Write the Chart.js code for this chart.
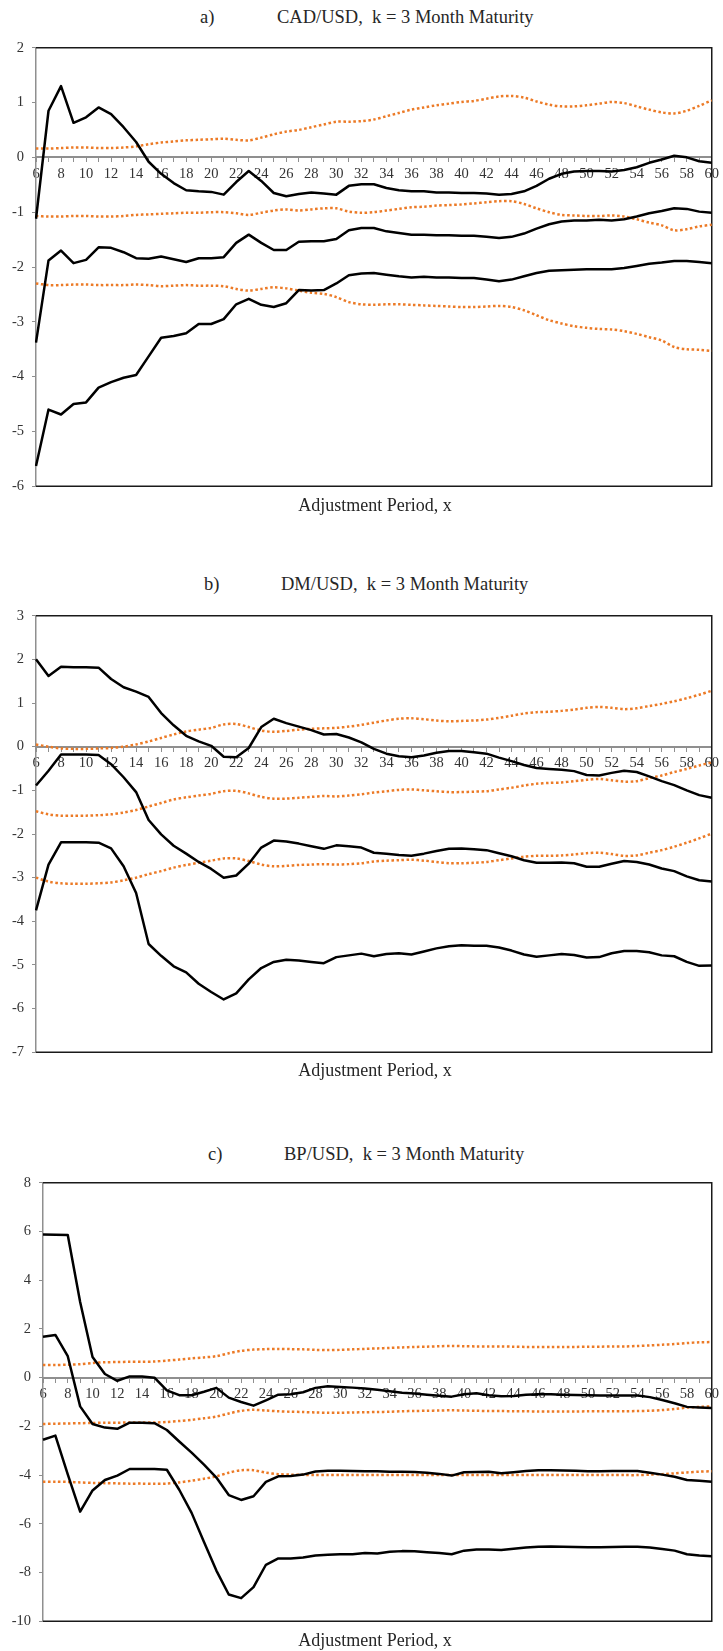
<!DOCTYPE html>
<html>
<head>
<meta charset="utf-8">
<script src="https://cdn.jsdelivr.net/npm/chart.js@4.4.1/dist/chart.umd.min.js"></script>
<style>
  html, body { margin: 0; padding: 0; background: #fff; }
  body { width: 723px; height: 1651px; position: relative; overflow: hidden; font-family: "Liberation Serif", "Times New Roman", serif; color: #262626; }
  .txt { position: absolute; white-space: pre; line-height: 1; }
  .ttl { font-size: 18.5px; }
  .xl { font-size: 18px; text-align: center; width: 400px; }
  .box { position: absolute; left: 0; width: 723px; }
</style>
</head>
<body>
<div class="txt ttl" style="left:200px; top:8px;">a)</div>
<div class="txt ttl" style="left:277px; top:8px;">CAD/USD,  k = 3 Month Maturity</div>
<div class="box" id="boxA" style="top:31px; height:472px;"><canvas id="cA" width="723" height="472"></canvas></div>
<div class="txt xl" style="left:175px; top:496px;">Adjustment Period, x</div>

<div class="txt ttl" style="left:204px; top:575px;">b)</div>
<div class="txt ttl" style="left:281px; top:575px;">DM/USD,  k = 3 Month Maturity</div>
<div class="box" id="boxB" style="top:599px; height:470px;"><canvas id="cB" width="723" height="470"></canvas></div>
<div class="txt xl" style="left:175px; top:1061px;">Adjustment Period, x</div>

<div class="txt ttl" style="left:208px; top:1145px;">c)</div>
<div class="txt ttl" style="left:284px; top:1145px;">BP/USD,  k = 3 Month Maturity</div>
<div class="box" id="boxC" style="top:1166px; height:472px;"><canvas id="cC" width="723" height="472"></canvas></div>
<div class="txt xl" style="left:175px; top:1631px;">Adjustment Period, x</div>

<script>
// Categories: adjustment period x
const periods = [6,7,8,9,10,11,12,13,14,15,16,17,18,19,20,21,22,23,24,25,26,27,28,29,30,31,32,33,34,35,36,37,38,39,40,41,42,43,44,45,46,47,48,49,50,51,52,53,54,55,56,57,58,59,60];

// Panel a) CAD/USD
const cadSolid1 = [-1.12,0.85,1.3,0.63,0.73,0.91,0.79,0.55,0.28,-0.08,-0.3,-0.47,-0.6,-0.62,-0.63,-0.68,-0.45,-0.25,-0.43,-0.65,-0.71,-0.67,-0.64,-0.66,-0.68,-0.52,-0.49,-0.49,-0.56,-0.6,-0.62,-0.62,-0.64,-0.64,-0.65,-0.65,-0.66,-0.68,-0.67,-0.62,-0.52,-0.39,-0.3,-0.26,-0.25,-0.25,-0.26,-0.23,-0.18,-0.1,-0.04,0.03,0.0,-0.07,-0.1];
const cadSolid2 = [-3.38,-1.88,-1.7,-1.93,-1.87,-1.64,-1.65,-1.73,-1.84,-1.85,-1.81,-1.86,-1.91,-1.84,-1.84,-1.82,-1.56,-1.41,-1.56,-1.69,-1.69,-1.54,-1.53,-1.53,-1.49,-1.33,-1.29,-1.29,-1.35,-1.38,-1.41,-1.41,-1.42,-1.42,-1.43,-1.43,-1.45,-1.47,-1.45,-1.39,-1.3,-1.22,-1.17,-1.15,-1.15,-1.14,-1.15,-1.13,-1.08,-1.02,-0.98,-0.93,-0.94,-0.99,-1.01];
const cadSolid3 = [-5.63,-4.6,-4.69,-4.5,-4.47,-4.2,-4.1,-4.02,-3.97,-3.63,-3.29,-3.26,-3.21,-3.04,-3.04,-2.95,-2.68,-2.58,-2.69,-2.73,-2.66,-2.42,-2.43,-2.42,-2.3,-2.15,-2.12,-2.11,-2.14,-2.17,-2.19,-2.18,-2.19,-2.19,-2.2,-2.2,-2.23,-2.26,-2.23,-2.17,-2.11,-2.07,-2.06,-2.05,-2.04,-2.04,-2.04,-2.02,-1.98,-1.94,-1.92,-1.89,-1.89,-1.91,-1.93];
const cadDot1 = [0.16,0.16,0.17,0.18,0.18,0.17,0.17,0.18,0.2,0.24,0.27,0.29,0.31,0.32,0.33,0.34,0.32,0.31,0.36,0.42,0.47,0.5,0.55,0.6,0.65,0.65,0.66,0.69,0.75,0.81,0.87,0.91,0.95,0.98,1.01,1.03,1.07,1.11,1.12,1.09,1.02,0.96,0.93,0.93,0.95,0.98,1.01,0.99,0.93,0.87,0.82,0.8,0.85,0.94,1.04];
const cadDot2 = [-1.07,-1.08,-1.08,-1.07,-1.07,-1.08,-1.08,-1.07,-1.05,-1.04,-1.03,-1.02,-1.01,-1.01,-1.0,-1.0,-1.02,-1.05,-1.01,-0.97,-0.95,-0.97,-0.95,-0.93,-0.93,-0.99,-1.01,-1.0,-0.97,-0.94,-0.91,-0.9,-0.88,-0.87,-0.86,-0.84,-0.82,-0.8,-0.8,-0.85,-0.93,-1.0,-1.05,-1.06,-1.07,-1.07,-1.06,-1.08,-1.13,-1.19,-1.24,-1.33,-1.31,-1.26,-1.23];
const cadDot3 = [-2.3,-2.33,-2.33,-2.32,-2.32,-2.33,-2.33,-2.33,-2.32,-2.33,-2.35,-2.34,-2.33,-2.34,-2.34,-2.35,-2.4,-2.43,-2.4,-2.37,-2.39,-2.43,-2.47,-2.49,-2.55,-2.64,-2.68,-2.69,-2.68,-2.68,-2.69,-2.7,-2.71,-2.72,-2.73,-2.73,-2.72,-2.71,-2.73,-2.79,-2.88,-2.97,-3.03,-3.08,-3.11,-3.13,-3.14,-3.17,-3.22,-3.28,-3.34,-3.46,-3.5,-3.51,-3.53];

// Panel b) DM/USD
const dmSolid1 = [2.0,1.62,1.83,1.82,1.82,1.81,1.55,1.36,1.26,1.14,0.77,0.49,0.25,0.12,0.02,-0.23,-0.24,-0.03,0.45,0.64,0.54,0.46,0.38,0.28,0.29,0.21,0.1,-0.05,-0.16,-0.22,-0.24,-0.2,-0.14,-0.1,-0.1,-0.13,-0.16,-0.25,-0.33,-0.42,-0.49,-0.51,-0.53,-0.56,-0.65,-0.66,-0.6,-0.55,-0.58,-0.68,-0.79,-0.88,-1.0,-1.11,-1.17];
const dmSolid2 = [-0.89,-0.55,-0.18,-0.18,-0.18,-0.19,-0.4,-0.7,-1.04,-1.68,-2.01,-2.27,-2.45,-2.64,-2.8,-3.0,-2.95,-2.68,-2.31,-2.15,-2.17,-2.22,-2.28,-2.34,-2.26,-2.28,-2.31,-2.43,-2.45,-2.48,-2.5,-2.45,-2.39,-2.34,-2.33,-2.35,-2.37,-2.44,-2.51,-2.6,-2.66,-2.66,-2.65,-2.67,-2.75,-2.75,-2.68,-2.62,-2.64,-2.7,-2.79,-2.85,-2.97,-3.06,-3.09];
const dmSolid3 = [-3.75,-2.7,-2.19,-2.19,-2.19,-2.2,-2.33,-2.74,-3.35,-4.52,-4.79,-5.03,-5.17,-5.43,-5.62,-5.79,-5.65,-5.33,-5.07,-4.93,-4.88,-4.9,-4.93,-4.96,-4.82,-4.78,-4.74,-4.8,-4.75,-4.73,-4.76,-4.69,-4.62,-4.57,-4.55,-4.56,-4.56,-4.6,-4.67,-4.76,-4.81,-4.78,-4.75,-4.77,-4.83,-4.82,-4.73,-4.68,-4.68,-4.71,-4.78,-4.8,-4.93,-5.02,-5.01];
const dmDot1 = [0.05,0.0,-0.04,-0.05,-0.05,-0.04,-0.03,0.0,0.05,0.12,0.2,0.28,0.35,0.39,0.43,0.51,0.52,0.45,0.37,0.34,0.36,0.39,0.41,0.42,0.43,0.46,0.5,0.55,0.6,0.64,0.65,0.63,0.6,0.58,0.59,0.6,0.62,0.66,0.71,0.76,0.79,0.8,0.82,0.85,0.89,0.91,0.89,0.86,0.88,0.93,0.98,1.04,1.11,1.19,1.28];
const dmDot2 = [-1.48,-1.55,-1.58,-1.58,-1.58,-1.57,-1.55,-1.51,-1.45,-1.37,-1.29,-1.21,-1.16,-1.12,-1.08,-1.02,-1.01,-1.07,-1.15,-1.19,-1.19,-1.17,-1.15,-1.13,-1.14,-1.12,-1.09,-1.05,-1.02,-0.99,-0.98,-1.0,-1.02,-1.04,-1.04,-1.03,-1.02,-0.98,-0.94,-0.89,-0.85,-0.83,-0.82,-0.79,-0.76,-0.74,-0.77,-0.8,-0.79,-0.72,-0.66,-0.58,-0.51,-0.43,-0.36];
const dmDot3 = [-3.0,-3.09,-3.13,-3.14,-3.14,-3.13,-3.11,-3.06,-3.0,-2.92,-2.85,-2.77,-2.71,-2.66,-2.61,-2.56,-2.56,-2.62,-2.7,-2.74,-2.73,-2.71,-2.7,-2.69,-2.7,-2.69,-2.67,-2.63,-2.61,-2.6,-2.59,-2.61,-2.64,-2.67,-2.67,-2.66,-2.64,-2.6,-2.56,-2.52,-2.5,-2.5,-2.49,-2.47,-2.44,-2.43,-2.46,-2.5,-2.49,-2.43,-2.37,-2.29,-2.2,-2.1,-1.99];

// Panel c) BP/USD
const bpSolid1 = [5.87,5.86,5.85,3.1,0.85,0.15,-0.13,0.05,0.05,0.0,-0.52,-0.72,-0.72,-0.58,-0.42,-0.82,-1.0,-1.15,-0.93,-0.7,-0.68,-0.6,-0.42,-0.35,-0.38,-0.41,-0.45,-0.5,-0.56,-0.62,-0.65,-0.7,-0.74,-0.78,-0.68,-0.64,-0.72,-0.76,-0.75,-0.7,-0.68,-0.68,-0.7,-0.71,-0.72,-0.73,-0.73,-0.73,-0.73,-0.8,-0.92,-1.05,-1.2,-1.23,-1.25];
const bpSolid2 = [1.68,1.75,0.88,-1.18,-1.9,-2.05,-2.1,-1.85,-1.85,-1.87,-2.15,-2.62,-3.08,-3.57,-4.1,-4.82,-5.02,-4.87,-4.28,-4.05,-4.04,-3.98,-3.85,-3.82,-3.82,-3.83,-3.84,-3.84,-3.86,-3.86,-3.87,-3.9,-3.95,-4.02,-3.88,-3.87,-3.86,-3.92,-3.88,-3.83,-3.8,-3.8,-3.81,-3.82,-3.84,-3.84,-3.83,-3.83,-3.83,-3.9,-3.98,-4.07,-4.2,-4.23,-4.27];
const bpSolid3 = [-2.55,-2.38,-3.97,-5.5,-4.63,-4.2,-4.02,-3.75,-3.75,-3.75,-3.78,-4.6,-5.55,-6.75,-7.92,-8.9,-9.05,-8.6,-7.68,-7.42,-7.42,-7.38,-7.3,-7.27,-7.25,-7.25,-7.2,-7.22,-7.15,-7.12,-7.13,-7.17,-7.2,-7.25,-7.1,-7.05,-7.05,-7.07,-7.02,-6.97,-6.94,-6.93,-6.94,-6.95,-6.96,-6.96,-6.95,-6.94,-6.94,-6.97,-7.03,-7.1,-7.25,-7.3,-7.33];
const bpDot1 = [0.52,0.52,0.53,0.55,0.6,0.63,0.64,0.65,0.65,0.66,0.7,0.74,0.79,0.83,0.88,1.0,1.1,1.15,1.17,1.18,1.17,1.16,1.14,1.13,1.14,1.16,1.18,1.2,1.22,1.24,1.26,1.27,1.29,1.3,1.29,1.28,1.28,1.28,1.27,1.26,1.26,1.26,1.26,1.26,1.27,1.27,1.28,1.28,1.3,1.32,1.35,1.38,1.42,1.45,1.46];
const bpDot2 = [-1.9,-1.89,-1.88,-1.87,-1.86,-1.85,-1.85,-1.84,-1.84,-1.84,-1.82,-1.78,-1.73,-1.67,-1.6,-1.47,-1.36,-1.32,-1.35,-1.38,-1.4,-1.41,-1.43,-1.44,-1.44,-1.43,-1.42,-1.41,-1.4,-1.38,-1.37,-1.36,-1.35,-1.34,-1.35,-1.36,-1.37,-1.37,-1.38,-1.38,-1.39,-1.39,-1.39,-1.39,-1.38,-1.38,-1.38,-1.38,-1.37,-1.36,-1.33,-1.29,-1.23,-1.2,-1.18];
const bpDot3 = [-4.27,-4.27,-4.28,-4.3,-4.32,-4.33,-4.34,-4.35,-4.35,-4.36,-4.35,-4.3,-4.23,-4.15,-4.05,-3.9,-3.8,-3.8,-3.9,-3.96,-3.98,-3.99,-4.0,-4.0,-4.0,-4.0,-4.0,-4.0,-4.0,-4.0,-4.0,-4.0,-4.0,-4.0,-4.0,-4.0,-4.0,-4.0,-4.0,-4.0,-4.0,-4.0,-4.0,-4.0,-4.0,-4.0,-4.0,-4.0,-4.0,-3.98,-3.96,-3.93,-3.89,-3.86,-3.84];

// Y axis tick settings per panel
const yRangeA = [-6, 2, 1];
const yRangeB = [-7, 3, 1];
const yRangeC = [-10, 8, 2];

const BLACK = '#000000';
const ORANGE = '#EC7A26';
const AXIS_GRAY = '#8f8f8f';
const TICK_TEXT = '#333333';

const frameBorder = {
  id: 'frameBorder',
  beforeDatasetsDraw(chart) {
    const {ctx, chartArea: a} = chart;
    ctx.save();
    ctx.strokeStyle = '#1a1a1a';
    ctx.lineWidth = 1.5;
    ctx.beginPath();
    ctx.moveTo(a.left, a.top);
    ctx.lineTo(a.right, a.top);
    ctx.lineTo(a.right, a.bottom);
    ctx.lineTo(a.left, a.bottom);
    ctx.stroke();
    ctx.restore();
  }
};

function solid(data) {
  return { data, borderColor: BLACK, borderWidth: 2.5, pointRadius: 0, tension: 0, fill: false, borderJoinStyle: 'round' };
}
function dotted(data) {
  return { data, borderColor: ORANGE, borderWidth: 2.5, borderDash: [2.5, 2.5], pointRadius: 0, tension: 0.3, fill: false };
}

function makePanel(canvasId, yRange, leftWidth, s1, s2, s3, d1, d2, d3) {
  const ctx = document.getElementById(canvasId);
  return new Chart(ctx, {
    type: 'line',
    data: {
      labels: periods,
      datasets: [solid(s1), solid(s2), solid(s3), dotted(d1), dotted(d2), dotted(d3)]
    },
    plugins: [frameBorder],
    options: {
      responsive: false,
      animation: false,
      devicePixelRatio: 1,
      layout: { padding: { top: 12, bottom: 12, left: 0, right: 8 } },
      plugins: { legend: { display: false }, tooltip: { enabled: false }, title: { display: false } },
      scales: {
        x: {
          type: 'category',
          position: { y: 0 },
          offset: false,
          border: { display: true, color: AXIS_GRAY, width: 2 },
          grid: { display: true, drawOnChartArea: false, drawTicks: true, tickLength: 4, color: AXIS_GRAY, lineWidth: 1 },
          ticks: {
            autoSkip: false, maxRotation: 0, minRotation: 0, padding: 4,
            color: TICK_TEXT,
            font: { family: '"Liberation Serif", serif', size: 14.5 },
            callback: function (val, idx) { const v = periods[idx]; return v % 2 === 0 ? String(v) : ''; }
          }
        },
        y: {
          min: yRange[0], max: yRange[1],
          border: { display: true, color: AXIS_GRAY, width: 1.5 },
          grid: { display: true, drawOnChartArea: false, drawTicks: true, tickLength: 4, color: AXIS_GRAY },
          ticks: { stepSize: yRange[2], padding: 8, color: TICK_TEXT, font: { family: '"Liberation Serif", serif', size: 14.5 } },
          afterFit: function (scale) { scale.width = leftWidth; }
        }
      }
    }
  });
}

makePanel('cA', yRangeA, 36, cadSolid1, cadSolid2, cadSolid3, cadDot1, cadDot2, cadDot3);
makePanel('cB', yRangeB, 36, dmSolid1, dmSolid2, dmSolid3, dmDot1, dmDot2, dmDot3);
makePanel('cC', yRangeC, 43, bpSolid1, bpSolid2, bpSolid3, bpDot1, bpDot2, bpDot3);
</script>
</body>
</html>
